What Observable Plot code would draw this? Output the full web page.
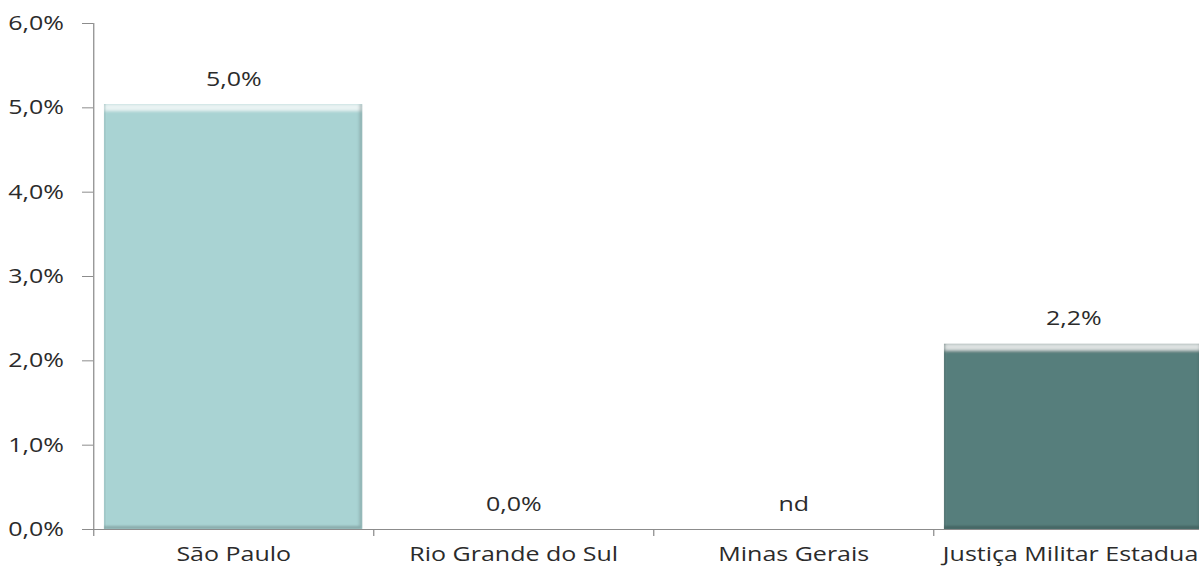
<!DOCTYPE html>
<html>
<head>
<meta charset="utf-8">
<script src="https://cdn.jsdelivr.net/npm/d3@7"></script>
<script src="https://cdn.jsdelivr.net/npm/@observablehq/plot@0.6"></script>
<style>
  html, body { margin: 0; padding: 0; background: #fff; overflow: hidden; }
  /* the chart is drawn narrow and widened horizontally as a whole */
  #chart svg { display: block; transform: scaleX(1.25); transform-origin: 0 0; }
</style>
</head>
<body>
<div id="chart"></div>
<script>
// Categories and values (percent); null = no data ("nd")
const categories = ["São Paulo", "Rio Grande do Sul", "Minas Gerais", "Justiça Militar Estadual"];
const values = [5.04, 0.0, null, 2.2];
const barColors = ["#a9d3d3", "#a9d3d3", "#a9d3d3", "#577e7b"];
const yTicks = [0, 1, 2, 3, 4, 5, 6];
const missingLabel = "nd";

const rows = categories.map((category, i) => ({category, value: values[i], color: barColors[i]}));
const pct = v => v.toFixed(1).replace(".", ",") + "%";

const FONT = "'Open Sans', sans-serif";
const AXIS = "#8c8c8c";
const INK = "#2b2b2b";
const step = 224; // band step in (unstretched) px, used to place the boundary ticks

const chart = Plot.plot({
  width: 976,
  height: 573,
  marginLeft: 74.4,
  marginRight: 5.6,
  marginTop: 23,
  marginBottom: 44,
  style: {fontFamily: FONT, fontSize: "20px", background: "#fff", overflow: "visible"},
  x: {domain: categories, paddingInner: 0.075, paddingOuter: 0.0375, label: null},
  y: {domain: [0, 6], label: null},
  color: {type: "identity"},
  marks: [
    // bars
    Plot.barY(rows.filter(d => d.value != null), {x: "category", y: "value", fill: "color"}),
    // x baseline
    Plot.ruleY([0], {stroke: AXIS, strokeWidth: 1}),
    // y axis line (first) and category boundary ticks
    Plot.ruleX(categories, {
      x: d => d,
      dx: -step / 2,
      y1: (d, i) => (i === 0 ? 6 : 0),
      y2: 0,
      insetBottom: -7,
      stroke: AXIS,
      strokeWidth: 1
    }),
    Plot.axisY({
      ticks: yTicks,
      tickFormat: pct,
      tickSize: 8.8,
      tickPadding: 15,
      stroke: AXIS,
      fill: INK,
      fontSize: 20
    }),
    Plot.axisX({tickSize: 0, tickPadding: 17, fill: INK, fontSize: 20}),
    // value labels above the bars
    Plot.text(rows, {
      x: "category",
      y: d => d.value ?? 0,
      text: d => (d.value == null ? missingLabel : pct(d.value)),
      dy: -25,
      fill: INK,
      fontSize: 20
    })
  ]
});

document.getElementById("chart").appendChild(chart);

// bevelled look on the bars: light top edge, darker right/bottom edges
const svg = d3.select(chart);
svg.insert("defs", ":first-child").html(`
  <filter id="bevel" x="-5%" y="-5%" width="110%" height="110%">
    <feOffset in="SourceAlpha" dx="0" dy="7" result="shiftDown"/>
    <feComposite in="SourceAlpha" in2="shiftDown" operator="out" result="topEdge"/>
    <feGaussianBlur in="topEdge" stdDeviation="1.6" result="topBlur"/>
    <feFlood flood-color="#ffffff" flood-opacity="0.7"/>
    <feComposite in2="topBlur" operator="in" result="light"/>
    <feOffset in="SourceAlpha" dx="-2.4" dy="-3" result="shiftUp"/>
    <feComposite in="SourceAlpha" in2="shiftUp" operator="out" result="lowEdge"/>
    <feGaussianBlur in="lowEdge" stdDeviation="1.2" result="lowBlur"/>
    <feFlood flood-color="#000000" flood-opacity="0.4"/>
    <feComposite in2="lowBlur" operator="in" result="dark"/>
    <feOffset in="SourceAlpha" dx="1.6" dy="0" result="shiftRight"/>
    <feComposite in="SourceAlpha" in2="shiftRight" operator="out" result="leftEdge"/>
    <feFlood flood-color="#000000" flood-opacity="0.12"/>
    <feComposite in2="leftEdge" operator="in" result="leftShade"/>
    <feMerge result="merged">
      <feMergeNode in="SourceGraphic"/>
      <feMergeNode in="light"/>
      <feMergeNode in="dark"/>
      <feMergeNode in="leftShade"/>
    </feMerge>
    <feComposite in="merged" in2="SourceAlpha" operator="in"/>
  </filter>`);
svg.selectAll("g[aria-label='bar'] rect").attr("filter", "url(#bevel)");
</script>
</body>
</html>
